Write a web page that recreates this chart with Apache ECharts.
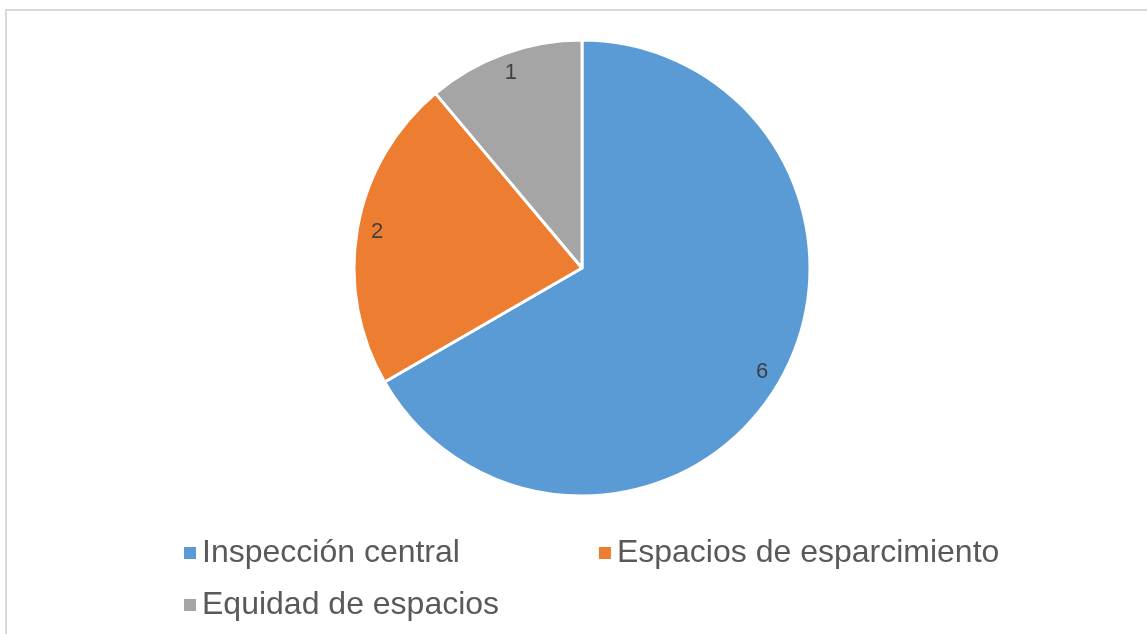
<!DOCTYPE html>
<html>
<head>
<meta charset="utf-8">
<script src="https://cdn.jsdelivr.net/npm/echarts@6/dist/echarts.min.js"></script>
<style>
  html, body { margin: 0; padding: 0; background: #fff; }
  #chart { width: 1147px; height: 634px; }
</style>
</head>
<body>
<div id="chart"></div>
<script>
// datos del gráfico
var categories = ["Inspección central", "Espacios de esparcimiento", "Equidad de espacios"];
var values = [6, 2, 1];
var colors = ["#5b9bd5", "#ed7d31", "#a5a5a5"];

var pieData = categories.map(function (name, i) {
  return { name: name, value: values[i], itemStyle: { color: colors[i] } };
});

var chart = echarts.init(document.getElementById("chart"));

var legendText = {
  fontFamily: "Liberation Sans, Arial, sans-serif",
  fontSize: 32,
  color: "#595959"
};

chart.setOption({
  animation: false,
  graphic: [
    {
      type: "rect",
      shape: { x: 6, y: 10, width: 1200, height: 700 },
      style: { fill: "none", stroke: "#d9d9d9", lineWidth: 2 },
      silent: true
    }
  ],
  legend: [
    {
      left: 177,
      top: 532,
      icon: "rect",
      itemWidth: 14,
      itemHeight: 14,
      itemGap: 137,
      data: [categories[0], categories[1]],
      textStyle: legendText
    },
    {
      left: 177,
      top: 584,
      icon: "rect",
      itemWidth: 14,
      itemHeight: 14,
      data: [categories[2]],
      textStyle: legendText
    }
  ],
  series: [
    {
      name: "pie",
      type: "pie",
      center: [582, 268],
      radius: 228,
      startAngle: 90,
      clockwise: true,
      label: { show: false },
      labelLine: { show: false },
      itemStyle: { borderColor: "#fff", borderWidth: 3 },
      emphasis: { disabled: true },
      data: pieData
    },
    {
      // serie invisible solo para colocar las etiquetas cerca del borde
      name: "labels",
      type: "pie",
      center: [582, 268],
      radius: 410,
      startAngle: 90,
      clockwise: true,
      silent: true,
      z: 5,
      itemStyle: { color: "rgba(0,0,0,0)" },
      label: {
        show: true,
        position: "inside",
        formatter: "{c}",
        fontFamily: "Liberation Sans, Arial, sans-serif",
        fontSize: 22,
        color: "#404040"
      },
      labelLine: { show: false },
      emphasis: { disabled: true },
      data: categories.map(function (name, i) {
        return { name: name, value: values[i] };
      })
    }
  ]
});
</script>
</body>
</html>
